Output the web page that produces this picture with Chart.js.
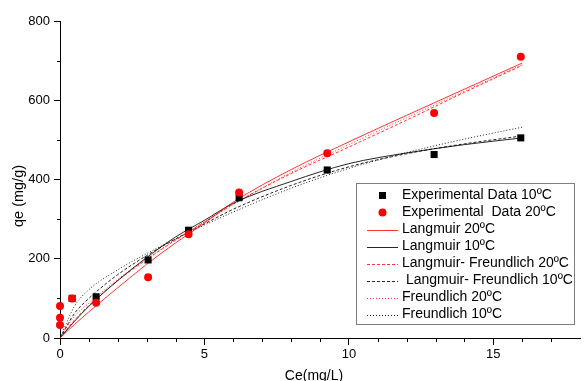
<!DOCTYPE html>
<html>
<head>
<meta charset="utf-8">
<script src="https://cdn.jsdelivr.net/npm/chart.js@4"></script>
<style>
  body { margin: 0; background: #fff; }
  #wrap { width: 585px; height: 381px; }
</style>
</head>
<body>
<div id="wrap"><canvas id="isotherm" width="585" height="381"></canvas></div>
<script>
// experimental points
const ce10 = [0.42, 1.25, 3.05, 4.45, 6.2, 9.25, 12.95, 15.95];
const qe10 = [100, 104, 197, 272, 354, 424, 463, 505];
const ce20 = [0, 0, 0, 0.42, 1.25, 3.05, 4.45, 6.2, 9.25, 12.95, 15.95];
const qe20 = [81, 51, 33, 100, 89, 153, 262, 367, 466, 568, 710];

// fitted curves
const ceFit = [0, 0.5, 1, 2, 3, 4, 5, 6, 8, 10, 12, 14, 16];
const langmuir20 = [0, 34, 66, 127, 186, 240, 290, 343, 425, 495, 562, 628, 694];
const langmuir10 = [0, 42, 80, 145, 203, 255, 297, 340, 395, 440, 467, 488, 505];
const lf20 = [0, 45, 82, 145, 198, 247, 293, 338, 415, 482, 550, 620, 688];
const lf10 = [0, 62, 100, 160, 208, 250, 288, 325, 385, 432, 465, 490, 510];
const freundlich20 = [0, 55, 88, 148, 200, 248, 293, 337, 418, 488, 556, 623, 690];
const freundlich10 = [0, 80, 122, 172, 213, 250, 285, 318, 378, 428, 468, 502, 532];

const legendLabels = [
    'Experimental Data 10ºC',
    'Experimental  Data 20ºC',
    'Langmuir 20ºC',
    'Langmuir 10ºC',
    'Langmuir- Freundlich 20ºC',
    ' Langmuir- Freundlich 10ºC',
    'Freundlich 20ºC',
    'Freundlich 10ºC'
];

const FONT = 'Liberation Sans, Arial, sans-serif';
const RED_LINE = 'rgba(255, 0, 0, 0.8)';
const BLACK_LINE = 'rgba(0, 0, 0, 0.85)';
const dashed = [3, 2];
const dotted = [1, 2];

const toXY = (xs, ys) => xs.map((x, i) => ({ x: x, y: ys[i] }));

function curve(label, ys, color, dash) {
    return {
        label: label,
        data: toXY(ceFit, ys),
        borderColor: color,
        borderWidth: 1,
        borderDash: dash,
        pointRadius: 0,
        showLine: true,
        cubicInterpolationMode: 'monotone',
        fill: false,
        order: 5
    };
}

const datasets = [
    {
        label: legendLabels[0],
        data: toXY(ce10, qe10),
        pointStyle: 'rect',
        pointRadius: 5,
        backgroundColor: '#000',
        borderColor: '#000',
        borderWidth: 0,
        showLine: false,
        clip: false,
        order: 1
    },
    {
        label: legendLabels[1],
        data: toXY(ce20, qe20),
        pointStyle: 'circle',
        pointRadius: 4,
        backgroundColor: '#ff0000',
        borderColor: '#ff0000',
        borderWidth: 0,
        showLine: false,
        clip: false,
        order: 0
    },
    curve(legendLabels[2], langmuir20, RED_LINE, []),
    curve(legendLabels[3], langmuir10, BLACK_LINE, []),
    curve(legendLabels[4], lf20, RED_LINE, dashed),
    curve(legendLabels[5], lf10, BLACK_LINE, dashed),
    curve(legendLabels[6], freundlich20, RED_LINE, dotted),
    curve(legendLabels[7], freundlich10, BLACK_LINE, dotted)
];

// minor ticks, axis titles and the boxed legend
const extras = {
    id: 'extras',
    afterDraw(chart) {
        const ctx = chart.ctx;
        const xs = chart.scales.x, ys = chart.scales.y;
        const area = chart.chartArea;
        ctx.save();
        ctx.strokeStyle = '#000';
        ctx.lineWidth = 1;
        ctx.beginPath();
        for (let v = 1; v < 18; v++) {
            if (v % 5 === 0) continue;
            const px = Math.round(xs.getPixelForValue(v)) + 0.5;
            ctx.moveTo(px, area.bottom);
            ctx.lineTo(px, area.bottom + 4);
        }
        for (let v = 100; v < 800; v += 200) {
            const py = Math.round(ys.getPixelForValue(v)) + 0.5;
            ctx.moveTo(area.left, py);
            ctx.lineTo(area.left - 3, py);
        }
        ctx.stroke();

        // axis titles
        ctx.fillStyle = '#000';
        ctx.textAlign = 'center';
        ctx.textBaseline = 'middle';
        ctx.font = '14px ' + FONT;
        ctx.fillText('Ce(mg/L)', 314, 376);
        ctx.translate(19, 196);
        ctx.rotate(-Math.PI / 2);
        ctx.font = '14.5px ' + FONT;
        ctx.fillText('qe (mg/g)', 0, 0);
        ctx.restore();

        // legend
        ctx.save();
        const box = { x: 356.5, y: 183.5, w: 218, h: 141 };
        ctx.fillStyle = '#fff';
        ctx.fillRect(box.x, box.y, box.w, box.h);
        ctx.strokeStyle = '#7f7f7f';
        ctx.lineWidth = 1;
        ctx.strokeRect(box.x, box.y, box.w, box.h);
        ctx.font = '14px ' + FONT;
        ctx.textAlign = 'left';
        ctx.textBaseline = 'middle';
        chart.data.datasets.forEach((ds, i) => {
            const cy = 195.5 + i * 17;
            if (ds.showLine) {
                ctx.save();
                ctx.strokeStyle = ds.borderColor;
                ctx.setLineDash(ds.borderDash);
                ctx.beginPath();
                ctx.moveTo(367, Math.round(cy) + 0.5);
                ctx.lineTo(398, Math.round(cy) + 0.5);
                ctx.stroke();
                ctx.restore();
            } else {
                ctx.fillStyle = ds.backgroundColor;
                if (ds.pointStyle === 'rect') {
                    ctx.fillRect(379, cy - 3.5, 7, 7);
                } else {
                    ctx.beginPath();
                    ctx.arc(382.5, cy, 4, 0, Math.PI * 2);
                    ctx.fill();
                }
            }
            ctx.fillStyle = '#000';
            ctx.fillText(ds.label, 402, cy);
        });
        ctx.restore();
    }
};

Chart.defaults.font.family = FONT;
Chart.defaults.color = '#000';

new Chart(document.getElementById('isotherm'), {
    type: 'scatter',
    data: { datasets: datasets },
    plugins: [extras],
    options: {
        responsive: false,
        animation: false,
        layout: { padding: { top: 21, right: 0, left: 0, bottom: 0 } },
        plugins: {
            legend: { display: false },
            tooltip: { enabled: false }
        },
        scales: {
            x: {
                type: 'linear',
                min: 0,
                max: 18,
                afterFit(scale) { scale.height = 43; },
                border: { display: true, color: '#000', width: 1 },
                grid: { drawOnChartArea: false, drawTicks: true, tickLength: 7, tickColor: '#000' },
                ticks: { stepSize: 5, includeBounds: false, padding: 2, font: { size: 13 }, maxRotation: 0 }
            },
            y: {
                type: 'linear',
                min: 0,
                max: 800,
                afterFit(scale) { scale.width = 60; },
                border: { display: true, color: '#000', width: 1 },
                grid: { drawOnChartArea: false, drawTicks: true, tickLength: 6, tickColor: '#000' },
                ticks: { stepSize: 200, padding: 4, font: { size: 13 } }
            }
        }
    }
});
</script>
</body>
</html>
